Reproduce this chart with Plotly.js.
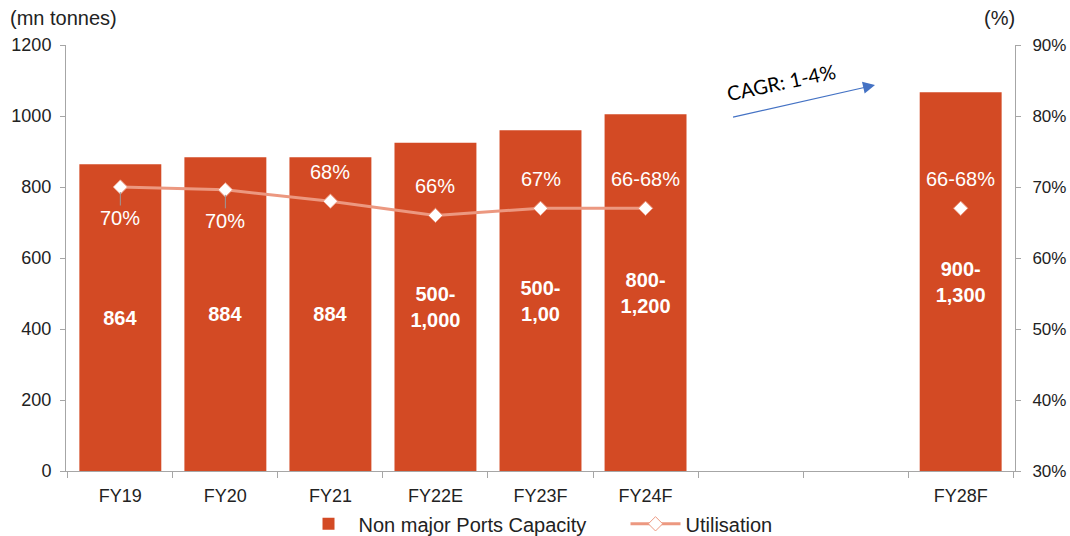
<!DOCTYPE html>
<html>
<head>
<meta charset="utf-8">
<script src="https://cdn.plot.ly/plotly-3.0.1.min.js"></script>
<style>html,body{margin:0;padding:0;background:#fff}#chart{width:1070px;height:536px}</style>
</head>
<body>
<div id="chart"></div>
<script>
// ---- data ----
const categories = ['FY19', 'FY20', 'FY21', 'FY22E', 'FY23F', 'FY24F', ' ', '  ', 'FY28F'];
const capacity = [864, 884, 884, 925, 960, 1005, null, null, 1067];
const capacityLabels = ['864', '884', '884', '500-<br>1,000', '500-<br>1,00', '800-<br>1,200', '', '', '900-<br>1,300'];
const utilisation = [70, 69.6, 68, 66, 67, 67, null, null, 67];
const utilisationLabels = ['70%', '70%', '68%', '66%', '67%', '66-68%', '', '', '66-68%'];
const cagrText = 'CAGR: 1-4%';

const FONT = 'Liberation Sans, Arial, sans-serif';
const BAR = '#D34A24';
const LINE = '#EC9880';

const traces = [
  {
    type: 'bar', name: 'Non major Ports Capacity',
    x: categories, y: capacity,
    text: capacityLabels, texttemplate: '%{text}',
    textposition: 'inside', insidetextanchor: 'middle', textangle: 0,
    constraintext: 'none',
    textfont: {family: FONT, size: 20, color: '#ffffff', weight: 'bold'},
    marker: {color: BAR},
    hoverinfo: 'skip'
  },
  {
    type: 'scatter', mode: 'lines+markers', name: 'Utilisation',
    x: categories, y: utilisation, yaxis: 'y2',
    connectgaps: false,
    line: {color: LINE, width: 3},
    marker: {symbol: 'diamond', size: 11, color: '#ffffff', line: {color: LINE, width: 1}},
    hoverinfo: 'skip'
  }
];

const annotations = [];
const below = new Set([0, 1]);
utilisation.forEach((v, i) => {
  if (v === null || !utilisationLabels[i]) return;
  if (below.has(i)) {
    annotations.push({
      x: categories[i], y: v, xref: 'x', yref: 'y2',
      text: utilisationLabels[i], showarrow: true, arrowhead: 0,
      arrowwidth: 1, arrowcolor: '#9a9a9a', ax: 0, ay: 31, standoff: 5,
      font: {family: FONT, size: 20, color: '#ffffff'}
    });
  } else {
    annotations.push({
      x: categories[i], y: v, xref: 'x', yref: 'y2',
      text: utilisationLabels[i], showarrow: false, yshift: 29,
      font: {family: FONT, size: 20, color: '#ffffff'}
    });
  }
});

annotations.push(
  {xref: 'paper', yref: 'paper', x: -0.061, y: 1.064, xanchor: 'left', yanchor: 'middle',
   text: '(mn tonnes)', showarrow: false, font: {family: FONT, size: 20, color: '#222'}},
  {xref: 'paper', yref: 'paper', x: 1.002, y: 1.064, xanchor: 'right', yanchor: 'middle',
   text: '(%)', showarrow: false, font: {family: FONT, size: 20, color: '#222'}},
  {xref: 'paper', yref: 'paper', x: 0.7534, y: 0.913, xanchor: 'center', yanchor: 'middle',
   text: cagrText, textangle: -12, showarrow: false,
   font: {family: 'Lato, Open Sans, sans-serif', size: 20, color: '#000'}},
  {xref: 'paper', yref: 'paper', x: 0.8525, y: 0.906, text: ' ', showarrow: true,
   axref: 'pixel', ayref: 'pixel', ax: -146, ay: 33,
   arrowhead: 2, arrowsize: 2, arrowwidth: 1.2, arrowcolor: '#4472C4'}
);

const layout = {
  width: 1070, height: 536,
  margin: {l: 66, r: 55, t: 45, b: 65, autoexpand: false},
  paper_bgcolor: '#ffffff', plot_bgcolor: '#ffffff',
  font: {family: FONT, size: 18, color: '#222'},
  bargap: 0.22,
  showlegend: true,
  legend: {orientation: 'h', x: 0.245, xanchor: 'left', y: -0.124, yanchor: 'middle',
           font: {family: FONT, size: 20, color: '#222'}, itemwidth: 50,
           entrywidth: 262, entrywidthmode: 'pixels'},
  xaxis: {
    type: 'category', categoryorder: 'array', categoryarray: categories,
    showline: true, linecolor: '#a6a6a6', linewidth: 1,
    ticks: 'outside', tickson: 'boundaries', ticklen: 6, tickcolor: '#a6a6a6',
    ticklabelstandoff: 8,
    showgrid: false, zeroline: false,
    tickfont: {family: FONT, size: 18, color: '#222'}
  },
  yaxis: {
    range: [0, 1200], dtick: 200, tick0: 0,
    showline: true, linecolor: '#a6a6a6', linewidth: 1,
    ticks: 'outside', ticklen: 5, tickcolor: '#a6a6a6',
    ticklabelstandoff: 5,
    showgrid: false, zeroline: false,
    tickfont: {family: FONT, size: 18, color: '#222'}
  },
  yaxis2: {
    overlaying: 'y', side: 'right',
    range: [30, 90], dtick: 10, tick0: 30, ticksuffix: '%',
    showline: true, linecolor: '#a6a6a6', linewidth: 1,
    ticks: 'outside', ticklen: 5, tickcolor: '#a6a6a6',
    ticklabelstandoff: 8,
    showgrid: false, zeroline: false,
    tickfont: {family: FONT, size: 17, color: '#222'}
  },
  annotations: annotations
};

Plotly.newPlot('chart', traces, layout, {displayModeBar: false, staticPlot: true});
</script>
</body>
</html>
